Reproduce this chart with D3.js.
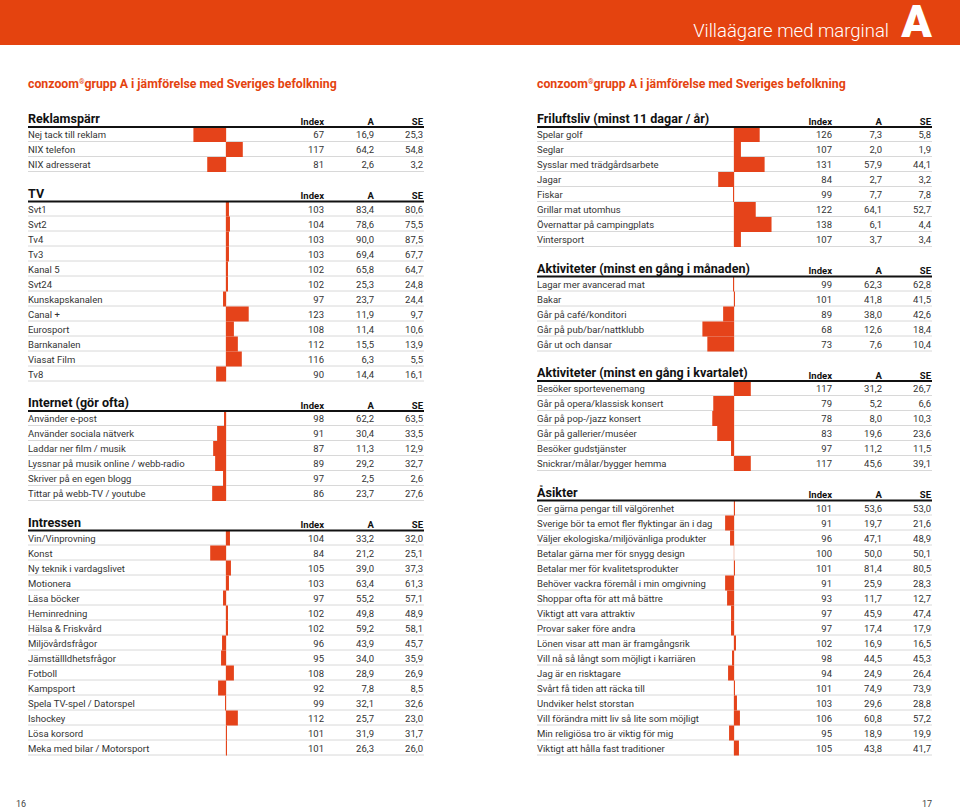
<!DOCTYPE html>
<html><head><meta charset="utf-8">
<script src="https://cdn.jsdelivr.net/npm/d3@7/dist/d3.min.js"></script>
<style>
html,body{margin:0;padding:0;background:#fff;}
svg{display:block;font-family:Roboto,"DejaVu Sans",sans-serif;}
</style></head>
<body><svg id="c" width="960" height="809"></svg>
<script>
// ---------- DATA ----------
const reklamTitle = "Reklamspärr";
const reklamLabels = ["Nej tack till reklam","NIX telefon","NIX adresserat"];
const reklamIndex = [67,117,81];
const reklamA = [16.9,64.2,2.6];
const reklamSE = [25.3,54.8,3.2];

const tvTitle = "TV";
const tvLabels = ["Svt1","Svt2","Tv4","Tv3","Kanal 5","Svt24","Kunskapskanalen","Canal +","Eurosport","Barnkanalen","Viasat Film","Tv8"];
const tvIndex = [103,104,103,103,102,102,97,123,108,112,116,90];
const tvA = [83.4,78.6,90.0,69.4,65.8,25.3,23.7,11.9,11.4,15.5,6.3,14.4];
const tvSE = [80.6,75.5,87.5,67.7,64.7,24.8,24.4,9.7,10.6,13.9,5.5,16.1];

const internetTitle = "Internet (gör ofta)";
const internetLabels = ["Använder e-post","Använder sociala nätverk","Laddar ner film / musik","Lyssnar på musik online / webb-radio","Skriver på en egen blogg","Tittar på webb-TV / youtube"];
const internetIndex = [98,91,87,89,97,86];
const internetA = [62.2,30.4,11.3,29.2,2.5,23.7];
const internetSE = [63.5,33.5,12.9,32.7,2.6,27.6];

const intressenTitle = "Intressen";
const intressenLabels = ["Vin/Vinprovning","Konst","Ny teknik i vardagslivet","Motionera","Läsa böcker","Heminredning","Hälsa & Friskvård","Miljövårdsfrågor","Jämställldhetsfrågor","Fotboll","Kampsport","Spela TV-spel / Datorspel","Ishockey","Lösa korsord","Meka med bilar / Motorsport"];
const intressenIndex = [104,84,105,103,97,102,102,96,95,108,92,99,112,101,101];
const intressenA = [33.2,21.2,39.0,63.4,55.2,49.8,59.2,43.9,34.0,28.9,7.8,32.1,25.7,31.9,26.3];
const intressenSE = [32.0,25.1,37.3,61.3,57.1,48.9,58.1,45.7,35.9,26.9,8.5,32.6,23.0,31.7,26.0];

const friluftTitle = "Friluftsliv (minst 11 dagar / år)";
const friluftLabels = ["Spelar golf","Seglar","Sysslar med trädgårdsarbete","Jagar","Fiskar","Grillar mat utomhus","Övernattar på campingplats","Vintersport"];
const friluftIndex = [126,107,131,84,99,122,138,107];
const friluftA = [7.3,2.0,57.9,2.7,7.7,64.1,6.1,3.7];
const friluftSE = [5.8,1.9,44.1,3.2,7.8,52.7,4.4,3.4];

const manadTitle = "Aktiviteter (minst en gång i månaden)";
const manadLabels = ["Lagar mer avancerad mat","Bakar","Går på café/konditori","Går på pub/bar/nattklubb","Går ut och dansar"];
const manadIndex = [99,101,89,68,73];
const manadA = [62.3,41.8,38.0,12.6,7.6];
const manadSE = [62.8,41.5,42.6,18.4,10.4];

const kvartalTitle = "Aktiviteter (minst en gång i kvartalet)";
const kvartalLabels = ["Besöker sportevenemang","Går på opera/klassisk konsert","Går på pop-/jazz konsert","Går på gallerier/muséer","Besöker gudstjänster","Snickrar/målar/bygger hemma"];
const kvartalIndex = [117,79,78,83,97,117];
const kvartalA = [31.2,5.2,8.0,19.6,11.2,45.6];
const kvartalSE = [26.7,6.6,10.3,23.6,11.5,39.1];

const asikterTitle = "Åsikter";
const asikterLabels = ["Ger gärna pengar till välgörenhet","Sverige bör ta emot fler flyktingar än i dag","Väljer ekologiska/miljövänliga produkter","Betalar gärna mer för snygg design","Betalar mer för kvalitetsprodukter","Behöver vackra föremål i min omgivning","Shoppar ofta för att må bättre","Viktigt att vara attraktiv","Provar saker före andra","Lönen visar att man är framgångsrik","Vill nå så långt som möjligt i karriären","Jag är en risktagare","Svårt få tiden att räcka till","Undviker helst storstan","Vill förändra mitt liv så lite som möjligt","Min religiösa tro är viktig för mig","Viktigt att hålla fast traditioner"];
const asikterIndex = [101,91,96,100,101,91,93,97,97,102,98,94,101,103,106,95,105];
const asikterA = [53.6,19.7,47.1,50.0,81.4,25.9,11.7,45.9,17.4,16.9,44.5,24.9,74.9,29.6,60.8,18.9,43.8];
const asikterSE = [53.0,21.6,48.9,50.1,80.5,28.3,12.7,47.4,17.9,16.5,45.3,26.4,73.9,28.8,57.2,19.9,41.7];

const columnHeaders = ["Index","A","SE"];
const pageTitle = "Villaägare med marginal";
const pageLetter = "A";
const subtitleParts = ["conzoom","®","grupp A i jämförelse med Sveriges befolkning"];
const pageNumbers = ["16","17"];

// ---------- LAYOUT ----------
const ORANGE = "#e4430f";
const BAR = "#e5431a";
const svg = d3.select("#c");
const W = 960, H = 809;
const locale = d3.formatLocale({decimal:",", thousands:" ", grouping:[3], currency:["",""]});
const f1 = locale.format(".1f");

const mk = (t,l,i,a,s)=>({title:t, rows:l.map((lab,k)=>({label:lab, index:i[k], a:a[k], se:s[k]}))});
const leftSections = [
  mk(reklamTitle,reklamLabels,reklamIndex,reklamA,reklamSE),
  mk(tvTitle,tvLabels,tvIndex,tvA,tvSE),
  mk(internetTitle,internetLabels,internetIndex,internetA,internetSE),
  mk(intressenTitle,intressenLabels,intressenIndex,intressenA,intressenSE)
];
const rightSections = [
  mk(friluftTitle,friluftLabels,friluftIndex,friluftA,friluftSE),
  mk(manadTitle,manadLabels,manadIndex,manadA,manadSE),
  mk(kvartalTitle,kvartalLabels,kvartalIndex,kvartalA,kvartalSE),
  mk(asikterTitle,asikterLabels,asikterIndex,asikterA,asikterSE)
];

// header band
svg.append("rect").attr("x",0).attr("y",0).attr("width",W).attr("height",45).attr("fill",ORANGE);
svg.append("text").attr("x",889).attr("y",37).attr("text-anchor","end")
  .attr("fill","#fff").attr("font-size",18.5).attr("font-weight",300).text(pageTitle);
svg.append("text").attr("x",932).attr("y",37).attr("text-anchor","end")
  .attr("fill","#fff").attr("font-size",45).attr("font-weight",900).text(pageLetter);

// subtitles
[28,537].forEach(x=>{
  const t = svg.append("text").attr("x",x).attr("y",88).attr("fill",ORANGE)
    .attr("font-size",12.3).attr("font-weight",700);
  t.append("tspan").text(subtitleParts[0]);
  t.append("tspan").attr("font-size",7).attr("dy",-4).text(subtitleParts[1]);
  t.append("tspan").attr("dy",4).text(subtitleParts[2]);
});

// page numbers
svg.append("text").attr("x",16).attr("y",807).attr("font-size",9).attr("fill","#444").text(pageNumbers[0]);
svg.append("text").attr("x",932).attr("y",807).attr("font-size",9).attr("fill","#444").attr("text-anchor","end").text(pageNumbers[1]);

const ROW = 15, GAP = 29.5, TOP = 127;

function drawColumn(sections, x0, x1, base, colX){
  const x = d3.scaleLinear().domain([60,140]).range([base-39.5, base+39.5]);
  let y = TOP;
  sections.forEach(sec=>{
    const g = svg.append("g");
    const n = sec.rows.length;
    const yb = d3.scaleBand().domain(d3.range(n)).range([y, y+n*ROW]);
    // title (slightly condensed)
    const tt = g.append("text").attr("x",x0).attr("y",y-4).attr("font-size",13.5).attr("font-weight",700)
      .attr("fill","#111").text(sec.title);
    const nat = tt.node().getComputedTextLength();
    tt.attr("textLength", nat*0.93).attr("lengthAdjust","spacingAndGlyphs");
    columnHeaders.forEach((h,k)=>{
      g.append("text").attr("x",colX[k]).attr("y",y-2.5).attr("text-anchor","end")
        .attr("font-size",9.5).attr("font-weight",700).attr("fill","#111").text(h);
    });
    // separators
    g.selectAll("line.sep").data(d3.range(n)).join("line")
      .attr("x1",x0).attr("x2",x1)
      .attr("y1",i=>yb(i)+ROW-0.5).attr("y2",i=>yb(i)+ROW-0.5)
      .attr("stroke","#d8d8d8").attr("stroke-width",1);
    // baseline faint
    g.append("line").attr("x1",x(100)).attr("x2",x(100)).attr("y1",y).attr("y2",y+n*ROW)
      .attr("stroke","#f2c9bb").attr("stroke-width",1);
    // bars
    g.selectAll("rect.bar").data(sec.rows).join("rect")
      .attr("x",d=>Math.min(x(d.index),x(100)))
      .attr("width",d=>Math.abs(x(d.index)-x(100)))
      .attr("y",(d,i)=>yb(i)).attr("height",ROW)
      .attr("fill",BAR);
    // header line
    g.append("line").attr("x1",x0).attr("x2",x1).attr("y1",y).attr("y2",y)
      .attr("stroke","#111").attr("stroke-width",2);
    // labels
    g.selectAll("text.lab").data(sec.rows).join("text")
      .attr("x",x0).attr("y",(d,i)=>yb(i)+11)
      .attr("font-size",9.5).attr("fill","#333").text(d=>d.label);
    const cols = [d=>String(d.index), d=>f1(d.a), d=>f1(d.se)];
    cols.forEach((fn,k)=>{
      g.selectAll("text.c"+k).data(sec.rows).join("text")
        .attr("x",colX[k]).attr("y",(d,i)=>yb(i)+11).attr("text-anchor","end")
        .attr("font-size",9.5).attr("fill","#333").text(fn);
    });
    y += n*ROW + GAP;
  });
}
drawColumn(leftSections, 28, 424, 226, [324,374,423]);
drawColumn(rightSections, 537, 932, 734, [832,882,931]);
</script></body></html>
